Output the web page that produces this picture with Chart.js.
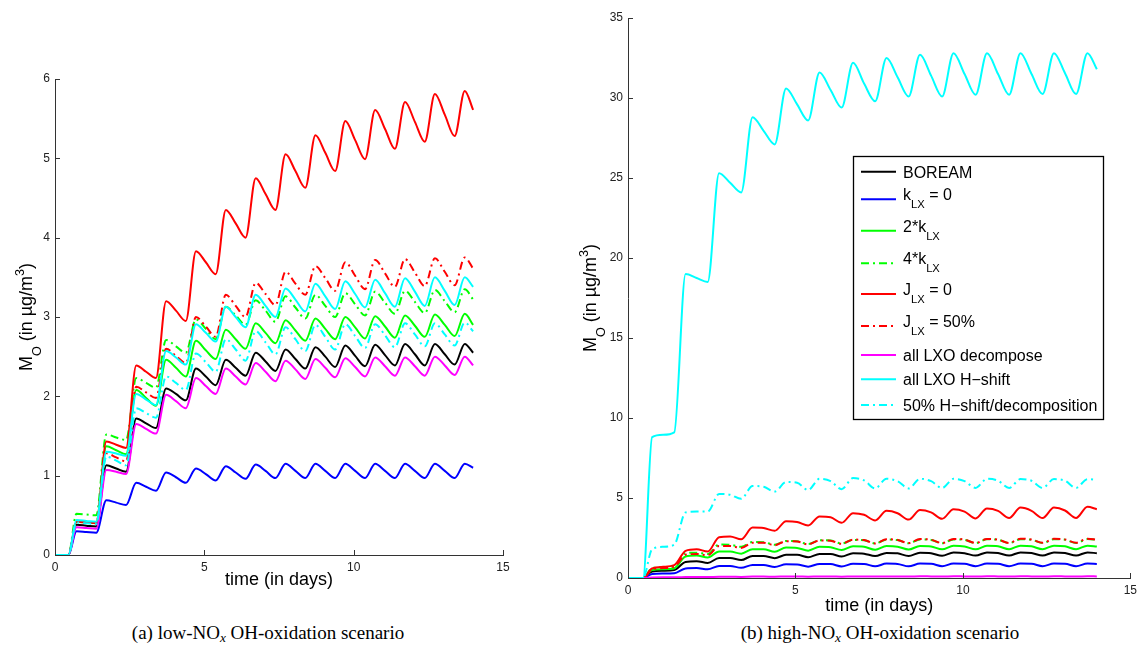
<!DOCTYPE html>
<html><head><meta charset="utf-8">
<script src="https://cdn.jsdelivr.net/npm/chart.js@4/dist/chart.umd.min.js"></script>
<style>
html,body{margin:0;padding:0;background:#fff;width:1142px;height:650px;overflow:hidden;}
#a{position:absolute;left:0;top:0;}
#b{position:absolute;left:571px;top:0;}
.cap{position:absolute;top:620px;line-height:26px;font-family:"Liberation Serif","Times New Roman",serif;font-size:19px;color:#000;white-space:nowrap;transform:translateX(-50%);}
.cap sub{font-size:0.7em;line-height:0;vertical-align:-0.25em;font-style:italic;}
</style></head><body>
<canvas id="a" width="571" height="620"></canvas>
<canvas id="b" width="571" height="620"></canvas>
<div class="cap" style="left:268px">(a) low-NO<sub>x</sub> OH-oxidation scenario</div>
<div class="cap" style="left:880px">(b) high-NO<sub>x</sub> OH-oxidation scenario</div>
<script>
// ---------- data ----------
const timeDays = [0,0.45,0.72, 1.05,1.38,1.72, 2.05,2.38,2.72, 3.05,3.38,3.72, 4.05,4.38,4.72, 5.05,5.38,5.72, 6.05,6.38,6.72, 7.05,7.38,7.72, 8.05,8.38,8.72, 9.05,9.38,9.72, 10.05,10.38,10.72, 11.05,11.38,11.72, 12.05,12.38,12.72, 13.05,13.38,13.72, 14.0];

const seriesNames = ['BOREAM','k_{LX} = 0','2*k_{LX}','4*k_{LX}','J_{LX} = 0','J_{LX} = 50%','all LXO decompose','all LXO H\u2212shift','50% H\u2212shift/decomposition'];
const seriesColors = ['#000000','#0000ff','#00ff00','#00ff00','#ff0000','#ff0000','#ff00ff','#00ffff','#00ffff'];
const seriesDashed = [false,false,false,true,false,true,false,false,true];

// (a) low-NOx
const boreamLow   = [0,0,0.38, 0.37,0.36,1.13, 1.09,1.05,1.72, 1.66,1.60,2.10, 2.03,1.95,2.35, 2.25,2.14,2.46, 2.36,2.26,2.55, 2.44,2.32,2.59, 2.47,2.35,2.62, 2.50,2.37,2.64, 2.51,2.38,2.65, 2.52,2.39,2.66, 2.53,2.39,2.66, 2.53,2.40,2.66, 2.55];
const kZeroLow    = [0,0,0.30, 0.29,0.28,0.69, 0.66,0.63,0.91, 0.86,0.81,1.04, 0.98,0.91,1.09, 1.02,0.94,1.12, 1.04,0.96,1.14, 1.06,0.97,1.15, 1.06,0.97,1.15, 1.06,0.97,1.15, 1.06,0.97,1.15, 1.06,0.97,1.15, 1.06,0.97,1.15, 1.06,0.97,1.15, 1.10];
const k2Low       = [0,0,0.42, 0.41,0.40,1.37, 1.32,1.27,2.08, 1.98,1.88,2.46, 2.36,2.25,2.70, 2.58,2.47,2.84, 2.72,2.60,2.92, 2.80,2.67,2.96, 2.83,2.70,2.98, 2.85,2.72,3.00, 2.87,2.73,3.01, 2.88,2.74,3.02, 2.89,2.75,3.03, 2.90,2.76,3.04, 2.90];
const k4Low       = [0,0,0.52, 0.51,0.50,1.52, 1.48,1.45,2.23, 2.17,2.11,2.71, 2.63,2.55,2.97, 2.85,2.72,3.13, 3.02,2.90,3.21, 3.08,2.94,3.26, 3.12,2.98,3.28, 3.14,3.00,3.30, 3.16,3.02,3.32, 3.18,3.04,3.33, 3.19,3.05,3.34, 3.20,3.06,3.35, 3.22];
const jZeroLow    = [0,0,0.42, 0.41,0.40,1.43, 1.39,1.35,2.39, 2.31,2.23,3.20, 3.08,2.95,3.83, 3.69,3.54,4.35, 4.18,4.00,4.75, 4.55,4.35,5.05, 4.84,4.63,5.29, 5.07,4.84,5.47, 5.23,4.99,5.61, 5.37,5.12,5.71, 5.46,5.21,5.81, 5.55,5.28,5.85, 5.61];
const jHalfLow    = [0,0,0.43, 0.42,0.41,1.28, 1.23,1.18,2.12, 2.05,1.98,2.60, 2.51,2.42,3.00, 2.88,2.75,3.28, 3.14,3.00,3.43, 3.29,3.15,3.57, 3.42,3.28,3.64, 3.49,3.33,3.69, 3.52,3.35,3.72, 3.55,3.38,3.73, 3.56,3.39,3.74, 3.57,3.40,3.75, 3.61];
const decompLow   = [0,0,0.35, 0.34,0.33,1.07, 1.05,1.02,1.65, 1.59,1.53,2.02, 1.94,1.85,2.23, 2.13,2.03,2.35, 2.25,2.15,2.42, 2.31,2.19,2.45, 2.34,2.22,2.47, 2.36,2.24,2.48, 2.37,2.25,2.49, 2.38,2.26,2.49, 2.38,2.26,2.50, 2.39,2.27,2.50, 2.39];
const hshiftLow   = [0,0,0.44, 0.43,0.42,1.30, 1.28,1.25,2.03, 1.96,1.89,2.57, 2.49,2.40,2.91, 2.80,2.69,3.13, 3.00,2.87,3.28, 3.14,3.00,3.36, 3.22,3.07,3.42, 3.26,3.10,3.45, 3.29,3.12,3.47, 3.30,3.13,3.49, 3.32,3.14,3.50, 3.33,3.15,3.50, 3.38];
const halfLow     = [0,0,0.41, 0.40,0.39,1.24, 1.19,1.13,1.85, 1.79,1.73,2.25, 2.17,2.08,2.54, 2.43,2.31,2.72, 2.59,2.45,2.82, 2.68,2.53,2.87, 2.72,2.57,2.90, 2.75,2.59,2.91, 2.76,2.61,2.91, 2.77,2.62,2.92, 2.78,2.63,2.92, 2.78,2.64,2.93, 2.82];

// (b) high-NOx
const boreamHigh  = [0,0,0.40, 0.45,0.50,1.00, 1.05,0.94,1.25, 1.25,1.12,1.38, 1.38,1.24,1.45, 1.45,1.30,1.50, 1.50,1.34,1.55, 1.52,1.37,1.57, 1.54,1.38,1.58, 1.55,1.39,1.59, 1.55,1.40,1.60, 1.56,1.40,1.60, 1.56,1.40,1.60, 1.56,1.40,1.60, 1.55];
const kZeroHigh   = [0,0,0.25, 0.28,0.30,0.60, 0.62,0.54,0.75, 0.75,0.64,0.82, 0.82,0.69,0.86, 0.85,0.71,0.88, 0.87,0.72,0.89, 0.88,0.73,0.90, 0.88,0.73,0.90, 0.89,0.74,0.90, 0.89,0.74,0.90, 0.89,0.74,0.90, 0.89,0.74,0.90, 0.89,0.74,0.90, 0.88];
const k2High      = [0,0,0.50, 0.55,0.60,1.35, 1.40,1.28,1.65, 1.65,1.52,1.80, 1.80,1.64,1.90, 1.88,1.71,1.95, 1.92,1.75,1.98, 1.95,1.77,2.00, 1.96,1.78,2.00, 1.97,1.79,2.01, 1.97,1.79,2.01, 1.98,1.80,2.02, 1.98,1.80,2.02, 1.98,1.80,2.02, 1.97];
const k4High      = [0,0,0.62, 0.68,0.75,1.55, 1.58,1.50,2.10, 2.08,1.95,2.25, 2.24,2.08,2.32, 2.30,2.12,2.36, 2.34,2.15,2.38, 2.36,2.16,2.40, 2.37,2.17,2.41, 2.38,2.17,2.41, 2.38,2.18,2.42, 2.39,2.18,2.42, 2.39,2.18,2.42, 2.39,2.18,2.43, 2.38];
const jZeroHigh   = [0,0,0.60, 0.70,0.80,1.70, 1.80,1.65,2.55, 2.60,2.42,3.15, 3.12,2.95,3.55, 3.50,3.28,3.85, 3.80,3.45,4.05, 3.95,3.60,4.20, 4.05,3.65,4.25, 4.10,3.70,4.30, 4.15,3.72,4.35, 4.20,3.75,4.40, 4.20,3.75,4.40, 4.22,3.75,4.45, 4.30];
const jHalfHigh   = [0,0,0.55, 0.62,0.70,1.45, 1.50,1.42,2.00, 2.00,1.88,2.20, 2.20,2.05,2.30, 2.28,2.10,2.35, 2.33,2.14,2.40, 2.37,2.16,2.42, 2.38,2.18,2.43, 2.39,2.18,2.44, 2.40,2.19,2.44, 2.40,2.19,2.45, 2.41,2.20,2.45, 2.41,2.20,2.46, 2.40];
const decompHigh  = [0,0,0.03, 0.04,0.04,0.06, 0.07,0.06,0.08, 0.08,0.07,0.09, 0.09,0.08,0.10, 0.10,0.08,0.10, 0.10,0.08,0.10, 0.10,0.09,0.10, 0.10,0.09,0.11, 0.10,0.09,0.11, 0.10,0.09,0.11, 0.10,0.09,0.11, 0.10,0.09,0.11, 0.10,0.09,0.11, 0.10];
const hshiftHigh  = [0,0,8.8, 8.95,9.1,19.0, 18.75,18.5,25.3, 24.7,24.1,28.8, 27.95,27.1,30.6, 29.6,28.6,31.6, 30.5,29.4,32.2, 30.9,29.8,32.5, 31.3,30.1,32.7, 31.4,30.1,32.8, 31.5,30.2,32.8, 31.5,30.2,32.8, 31.5,30.25,32.8, 31.55,30.25,32.8, 31.8];
const halfHigh    = [0,0,1.80, 1.95,2.08,4.10, 4.15,4.15,5.25, 5.20,4.95,5.75, 5.70,5.40,6.00, 5.95,5.50,6.20, 6.05,5.55,6.25, 6.10,5.60,6.20, 6.05,5.60,6.20, 6.05,5.62,6.20, 6.05,5.63,6.20, 6.08,5.63,6.18, 6.08,5.63,6.18, 6.08,5.63,6.18, 6.12];

const yTicksLow = [0,1,2,3,4,5,6];
const yTicksHigh = [0,5,10,15,20,25,30,35];
const xTicks = [0,5,10,15];

// ---------- rendering helpers ----------
const FAM = '"Liberation Sans", Arial, Helvetica, sans-serif';
function parseRich(str){
  const segs=[]; const re=/([_^])\{([^}]*)\}/g; let last=0, m;
  while((m=re.exec(str))){ if(m.index>last) segs.push({t:str.slice(last,m.index),k:0}); segs.push({t:m[2],k:m[1]==='_'?1:-1}); last=re.lastIndex; }
  if(last<str.length) segs.push({t:str.slice(last),k:0});
  return segs;
}
function measureRich(ctx,str,size){
  let w=0; for(const s of parseRich(str)){ ctx.font=(s.k?size*0.7:size)+'px '+FAM; w+=ctx.measureText(s.t).width; } return w;
}
function drawRich(ctx,str,x,y,size){
  let cx=x;
  for(const s of parseRich(str)){
    const fs=s.k?size*0.7:size; ctx.font=fs+'px '+FAM;
    const dy=s.k===1?size*0.5:(s.k===-1?-size*0.42:0);
    ctx.fillText(s.t,cx,y+dy); cx+=ctx.measureText(s.t).width;
  }
}

const decor = {
  id:'decor',
  afterDraw(chart,args,o){
    const {ctx,chartArea:ca,scales:{x,y}}=chart;
    ctx.save();
    ctx.strokeStyle='#333'; ctx.lineWidth=1; ctx.setLineDash([]);
    ctx.beginPath();
    x.ticks.forEach(t=>{const px=Math.round(x.getPixelForValue(t.value))+0.5; ctx.moveTo(px,ca.bottom); ctx.lineTo(px,ca.bottom-5);});
    y.ticks.forEach(t=>{const py=Math.round(y.getPixelForValue(t.value))+0.5; ctx.moveTo(ca.left,py); ctx.lineTo(ca.left+5,py);});
    ctx.stroke();
    ctx.fillStyle='#000'; ctx.textBaseline='alphabetic'; ctx.textAlign='left';
    const wx=measureRich(ctx,o.xTitle,18);
    drawRich(ctx,o.xTitle,(ca.left+ca.right)/2-wx/2,o.xTitleY,18);
    ctx.save(); ctx.translate(o.yTitleX,(ca.top+ca.bottom)/2); ctx.rotate(-Math.PI/2);
    const wy=measureRich(ctx,o.yTitle,18); drawRich(ctx,o.yTitle,-wy/2,0,18); ctx.restore();
    if(o.legend){
      const L=o.legend;
      ctx.fillStyle='#fff'; ctx.fillRect(L.x,L.y,L.w,L.h);
      ctx.strokeStyle='#000'; ctx.lineWidth=1.3; ctx.strokeRect(L.x+0.5,L.y+0.5,L.w,L.h);
      chart.data.datasets.forEach((ds,i)=>{
        const ry=L.y+L.rows[i];
        ctx.strokeStyle=ds.borderColor; ctx.lineWidth=2; ctx.setLineDash(ds.borderDash||[]);
        ctx.beginPath(); ctx.moveTo(L.x+8,ry); ctx.lineTo(L.x+43,ry); ctx.stroke();
        ctx.setLineDash([]); ctx.fillStyle='#000';
        const hasSub=ds.label.indexOf('_{')>=0;
        drawRich(ctx,ds.label,L.x+50,ry+(hasSub?1:6),16);
      });
    }
    ctx.restore();
  }
};

function makeDatasets(list){
  return list.map((vals,i)=>({
    label:seriesNames[i],
    data:timeDays.map((t,j)=>({x:t,y:vals[j]})),
    borderColor:seriesColors[i],
    backgroundColor:seriesColors[i],
    borderDash:seriesDashed[i]?[8,4,2,4]:[],
    borderWidth:2,
    pointRadius:0,
    fill:false,
    cubicInterpolationMode:'monotone',
    order:9-i
  }));
}

function makeOptions(cfg){
  return {
    responsive:false, animation:false, events:[],
    layout:{padding:cfg.pad},
    plugins:{legend:{display:false},tooltip:{enabled:false},decor:cfg.decor},
    scales:{
      x:{type:'linear',min:0,max:15,
         afterBuildTicks(s){s.ticks=xTicks.map(v=>({value:v}));},
         ticks:{font:{family:FAM,size:12},color:'#222',padding:5,maxRotation:0},
         grid:{display:true,drawOnChartArea:false,drawTicks:false},
         border:{display:true,color:'#333',width:1},
         afterFit(s){s.height=cfg.xH;}},
      y:{type:'linear',min:0,max:cfg.ymax,
         afterBuildTicks(s){s.ticks=cfg.yTicks.map(v=>({value:v}));},
         ticks:{font:{family:FAM,size:12},color:'#222',padding:5},
         grid:{display:true,drawOnChartArea:false,drawTicks:false},
         border:{display:true,color:'#333',width:1},
         afterFit(s){s.width=cfg.yW;}}
    }
  };
}

new Chart(document.getElementById('a'),{
  type:'line',
  data:{datasets:makeDatasets([boreamLow,kZeroLow,k2Low,k4Low,jZeroLow,jHalfLow,decompLow,hshiftLow,halfLow])},
  options:makeOptions({ymax:6,yTicks:yTicksLow,yW:55,xH:45,pad:{left:0,right:68,top:79,bottom:20},
    decor:{xTitle:'time (in days)',xTitleY:585,yTitle:'M_{O} (in \u00b5g/m^{3})',yTitleX:32}}),
  plugins:[decor]
});
new Chart(document.getElementById('b'),{
  type:'line',
  data:{datasets:makeDatasets([boreamHigh,kZeroHigh,k2High,k4High,jZeroHigh,jHalfHigh,decompHigh,hshiftHigh,halfHigh])},
  options:makeOptions({ymax:35,yTicks:yTicksHigh,yW:57,xH:30,pad:{left:0,right:7,top:18,bottom:12},
    decor:{xTitle:'time (in days)',xTitleY:611,yTitle:'M_{O} (in \u00b5g/m^{3})',yTitleX:25,
      legend:{x:282,y:156,w:250,h:263,rows:[15.7,43.3,74.7,107.3,138,170,199,223.3,249]}}}),
  plugins:[decor]
});
</script>
</body></html>
